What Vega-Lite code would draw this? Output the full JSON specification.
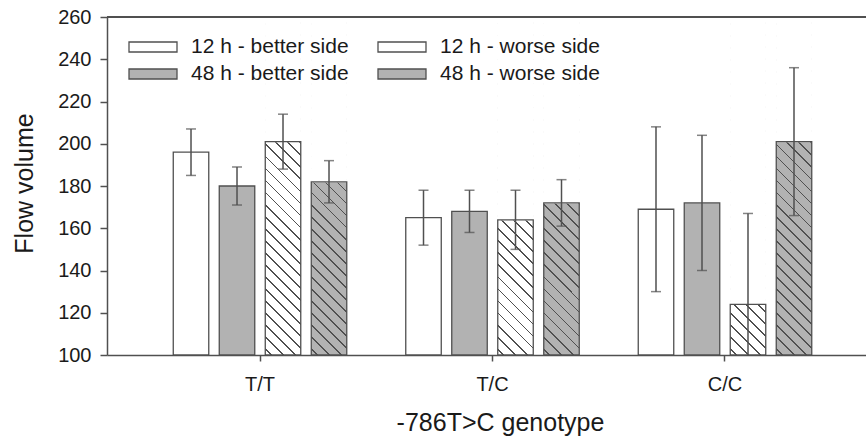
{
  "$schema": "https://vega.github.io/schema/vega-lite/v6.json",
  "width": 759,
  "height": 338,
  "autosize": "none",
  "padding": {"left": 107, "top": 17, "right": 0, "bottom": 81},
  "background": "white",
  "config": {
    "view": {"stroke": null},
    "font": "Liberation Sans",
    "axis": {
      "grid": false,
      "domainColor": "#505050",
      "domainWidth": 1.5,
      "tickColor": "#505050",
      "tickWidth": 1.5,
      "labelColor": "#1a1a1a",
      "titleColor": "#1a1a1a",
      "labelFont": "Liberation Sans",
      "titleFont": "Liberation Sans",
      "labelFontSize": 20,
      "titleFontSize": 25,
      "titleFontWeight": "normal"
    }
  },
  "data": {
    "values": [
      {"genotype": "T/T", "group": "12 h - better side", "value": 196, "lo": 185, "hi": 207},
      {"genotype": "T/T", "group": "48 h - better side", "value": 180, "lo": 171, "hi": 189},
      {"genotype": "T/T", "group": "12 h - worse side", "value": 201, "lo": 188, "hi": 214},
      {"genotype": "T/T", "group": "48 h - worse side", "value": 182, "lo": 172, "hi": 192},
      {"genotype": "T/C", "group": "12 h - better side", "value": 165, "lo": 152, "hi": 178},
      {"genotype": "T/C", "group": "48 h - better side", "value": 168, "lo": 158, "hi": 178},
      {"genotype": "T/C", "group": "12 h - worse side", "value": 164, "lo": 150, "hi": 178},
      {"genotype": "T/C", "group": "48 h - worse side", "value": 172, "lo": 161, "hi": 183},
      {"genotype": "C/C", "group": "12 h - better side", "value": 169, "lo": 130, "hi": 208},
      {"genotype": "C/C", "group": "48 h - better side", "value": 172, "lo": 140, "hi": 204},
      {"genotype": "C/C", "group": "12 h - worse side", "value": 124, "lo": 80, "hi": 167},
      {"genotype": "C/C", "group": "48 h - worse side", "value": 201, "lo": 166, "hi": 236}
    ]
  },
  "layer": [
    {
      "mark": {"type": "bar", "stroke": null},
      "encoding": {
        "x": {
          "field": "genotype", "type": "nominal", "sort": ["T/T", "T/C", "C/C"], "title": "-786T>C genotype",
          "scale": {"paddingInner": 0, "paddingOuter": 0.1323, "align": 0.5976},
          "axis": {"labelAngle": 0, "tickSize": 6, "labelPadding": 13, "titleX": 393, "titleY": 75, "titleBaseline": "alphabetic", "titleAlign": "center", "titleAnchor": null}
        },
        "xOffset": {
          "field": "group", "type": "nominal",
          "sort": ["12 h - better side", "48 h - better side", "12 h - worse side", "48 h - worse side"],
          "scale": {"paddingInner": 0.2283, "paddingOuter": 0.6413}
        },
        "y": {
          "field": "value", "type": "quantitative", "title": "Flow volume",
          "scale": {"domain": [100, 260], "nice": false, "zero": false},
          "axis": {"values": [100, 120, 140, 160, 180, 200, 220, 240, 260], "tickSize": 7, "labelPadding": 9, "titleX": -75, "titleY": 166, "titleBaseline": "alphabetic", "titleAlign": "center", "titleAnchor": null}
        },
        "y2": {"datum": 100},
        "fill": {
          "field": "group", "type": "nominal",
          "scale": {"domain": ["12 h - better side", "48 h - better side", "12 h - worse side", "48 h - worse side"], "range": ["#ffffff", "#b2b2b2", "#ffffff", "#b2b2b2"]},
          "legend": {
            "title": null, "orient": "none", "legendX": 21, "legendY": 20, "columns": 2,
            "symbolType": "M-1,-0.2083H1V0.2083H-1Z", "symbolSize": 2304,
            "symbolStrokeColor": "#505050", "symbolStrokeWidth": 1.3, "symbolOpacity": 1,
            "labelFontSize": 21, "labelColor": "#1a1a1a", "labelFont": "Liberation Sans",
            "labelOffset": 13, "columnPadding": 28, "rowPadding": 6, "clipHeight": 20,
            "encode": {
              "symbols": {
                "update": {
                  "fill": [
                    {"test": "datum.value === '12 h - worse side'", "value": {"gradient": "linear", "x1": 0, "y1": 1, "x2": 1.1581, "y2": 0.7587, "stops": [
                      {"offset": 0, "color": "#ffffff"},
                      {"offset": 0.0845, "color": "#ffffff"}, {"offset": 0.0845, "color": "#505050"}, {"offset": 0.1155, "color": "#505050"}, {"offset": 0.1155, "color": "#ffffff"},
                      {"offset": 0.2845, "color": "#ffffff"}, {"offset": 0.2845, "color": "#505050"}, {"offset": 0.3155, "color": "#505050"}, {"offset": 0.3155, "color": "#ffffff"},
                      {"offset": 0.4845, "color": "#ffffff"}, {"offset": 0.4845, "color": "#505050"}, {"offset": 0.5155, "color": "#505050"}, {"offset": 0.5155, "color": "#ffffff"},
                      {"offset": 0.6845, "color": "#ffffff"}, {"offset": 0.6845, "color": "#505050"}, {"offset": 0.7155, "color": "#505050"}, {"offset": 0.7155, "color": "#ffffff"},
                      {"offset": 0.8845, "color": "#ffffff"}, {"offset": 0.8845, "color": "#505050"}, {"offset": 0.9155, "color": "#505050"}, {"offset": 0.9155, "color": "#ffffff"},
                      {"offset": 1, "color": "#ffffff"}
                    ]}},
                    {"test": "datum.value === '48 h - worse side'", "value": {"gradient": "linear", "x1": 0, "y1": 1, "x2": 1.1581, "y2": 0.7587, "stops": [
                      {"offset": 0, "color": "#b2b2b2"},
                      {"offset": 0.0845, "color": "#b2b2b2"}, {"offset": 0.0845, "color": "#505050"}, {"offset": 0.1155, "color": "#505050"}, {"offset": 0.1155, "color": "#b2b2b2"},
                      {"offset": 0.2845, "color": "#b2b2b2"}, {"offset": 0.2845, "color": "#505050"}, {"offset": 0.3155, "color": "#505050"}, {"offset": 0.3155, "color": "#b2b2b2"},
                      {"offset": 0.4845, "color": "#b2b2b2"}, {"offset": 0.4845, "color": "#505050"}, {"offset": 0.5155, "color": "#505050"}, {"offset": 0.5155, "color": "#b2b2b2"},
                      {"offset": 0.6845, "color": "#b2b2b2"}, {"offset": 0.6845, "color": "#505050"}, {"offset": 0.7155, "color": "#505050"}, {"offset": 0.7155, "color": "#b2b2b2"},
                      {"offset": 0.8845, "color": "#b2b2b2"}, {"offset": 0.8845, "color": "#505050"}, {"offset": 0.9155, "color": "#505050"}, {"offset": 0.9155, "color": "#b2b2b2"},
                      {"offset": 1, "color": "#b2b2b2"}
                    ]}},
                    {"test": "datum.value === '48 h - better side'", "value": "#b2b2b2"},
                    {"value": "#ffffff"}
                  ],
                  "stroke": {"value": "#505050"},
                  "strokeWidth": {"value": 1.3}
                }
              }
            }
          }
        }
      }
    },
    {
      "transform": [{"filter": "indexof(datum.group, 'worse') >= 0"}],
      "mark": {
        "type": "bar", "stroke": null,
        "fill": {"gradient": "linear", "x1": 0, "y1": 1, "x2": 0.1148, "y2": -0.093, "stops": [
          {"offset": 0, "color": "rgba(80,80,80,0)"},
          {"offset": 0.0137, "color": "rgba(80,80,80,0)"}, {"offset": 0.0137, "color": "#505050"}, {"offset": 0.0185, "color": "#505050"}, {"offset": 0.0185, "color": "rgba(80,80,80,0)"},
          {"offset": 0.0460, "color": "rgba(80,80,80,0)"}, {"offset": 0.0460, "color": "#505050"}, {"offset": 0.0508, "color": "#505050"}, {"offset": 0.0508, "color": "rgba(80,80,80,0)"},
          {"offset": 0.0782, "color": "rgba(80,80,80,0)"}, {"offset": 0.0782, "color": "#505050"}, {"offset": 0.0830, "color": "#505050"}, {"offset": 0.0830, "color": "rgba(80,80,80,0)"},
          {"offset": 0.1105, "color": "rgba(80,80,80,0)"}, {"offset": 0.1105, "color": "#505050"}, {"offset": 0.1153, "color": "#505050"}, {"offset": 0.1153, "color": "rgba(80,80,80,0)"},
          {"offset": 0.1428, "color": "rgba(80,80,80,0)"}, {"offset": 0.1428, "color": "#505050"}, {"offset": 0.1476, "color": "#505050"}, {"offset": 0.1476, "color": "rgba(80,80,80,0)"},
          {"offset": 0.1750, "color": "rgba(80,80,80,0)"}, {"offset": 0.1750, "color": "#505050"}, {"offset": 0.1798, "color": "#505050"}, {"offset": 0.1798, "color": "rgba(80,80,80,0)"},
          {"offset": 0.2073, "color": "rgba(80,80,80,0)"}, {"offset": 0.2073, "color": "#505050"}, {"offset": 0.2121, "color": "#505050"}, {"offset": 0.2121, "color": "rgba(80,80,80,0)"},
          {"offset": 0.2395, "color": "rgba(80,80,80,0)"}, {"offset": 0.2395, "color": "#505050"}, {"offset": 0.2443, "color": "#505050"}, {"offset": 0.2443, "color": "rgba(80,80,80,0)"},
          {"offset": 0.2718, "color": "rgba(80,80,80,0)"}, {"offset": 0.2718, "color": "#505050"}, {"offset": 0.2766, "color": "#505050"}, {"offset": 0.2766, "color": "rgba(80,80,80,0)"},
          {"offset": 0.3041, "color": "rgba(80,80,80,0)"}, {"offset": 0.3041, "color": "#505050"}, {"offset": 0.3089, "color": "#505050"}, {"offset": 0.3089, "color": "rgba(80,80,80,0)"},
          {"offset": 0.3363, "color": "rgba(80,80,80,0)"}, {"offset": 0.3363, "color": "#505050"}, {"offset": 0.3411, "color": "#505050"}, {"offset": 0.3411, "color": "rgba(80,80,80,0)"},
          {"offset": 0.3686, "color": "rgba(80,80,80,0)"}, {"offset": 0.3686, "color": "#505050"}, {"offset": 0.3734, "color": "#505050"}, {"offset": 0.3734, "color": "rgba(80,80,80,0)"},
          {"offset": 0.4008, "color": "rgba(80,80,80,0)"}, {"offset": 0.4008, "color": "#505050"}, {"offset": 0.4056, "color": "#505050"}, {"offset": 0.4056, "color": "rgba(80,80,80,0)"},
          {"offset": 0.4331, "color": "rgba(80,80,80,0)"}, {"offset": 0.4331, "color": "#505050"}, {"offset": 0.4379, "color": "#505050"}, {"offset": 0.4379, "color": "rgba(80,80,80,0)"},
          {"offset": 0.4653, "color": "rgba(80,80,80,0)"}, {"offset": 0.4653, "color": "#505050"}, {"offset": 0.4701, "color": "#505050"}, {"offset": 0.4701, "color": "rgba(80,80,80,0)"},
          {"offset": 0.4976, "color": "rgba(80,80,80,0)"}, {"offset": 0.4976, "color": "#505050"}, {"offset": 0.5024, "color": "#505050"}, {"offset": 0.5024, "color": "rgba(80,80,80,0)"},
          {"offset": 0.5299, "color": "rgba(80,80,80,0)"}, {"offset": 0.5299, "color": "#505050"}, {"offset": 0.5347, "color": "#505050"}, {"offset": 0.5347, "color": "rgba(80,80,80,0)"},
          {"offset": 0.5621, "color": "rgba(80,80,80,0)"}, {"offset": 0.5621, "color": "#505050"}, {"offset": 0.5669, "color": "#505050"}, {"offset": 0.5669, "color": "rgba(80,80,80,0)"},
          {"offset": 0.5944, "color": "rgba(80,80,80,0)"}, {"offset": 0.5944, "color": "#505050"}, {"offset": 0.5992, "color": "#505050"}, {"offset": 0.5992, "color": "rgba(80,80,80,0)"},
          {"offset": 0.6266, "color": "rgba(80,80,80,0)"}, {"offset": 0.6266, "color": "#505050"}, {"offset": 0.6314, "color": "#505050"}, {"offset": 0.6314, "color": "rgba(80,80,80,0)"},
          {"offset": 0.6589, "color": "rgba(80,80,80,0)"}, {"offset": 0.6589, "color": "#505050"}, {"offset": 0.6637, "color": "#505050"}, {"offset": 0.6637, "color": "rgba(80,80,80,0)"},
          {"offset": 0.6911, "color": "rgba(80,80,80,0)"}, {"offset": 0.6911, "color": "#505050"}, {"offset": 0.6959, "color": "#505050"}, {"offset": 0.6959, "color": "rgba(80,80,80,0)"},
          {"offset": 0.7234, "color": "rgba(80,80,80,0)"}, {"offset": 0.7234, "color": "#505050"}, {"offset": 0.7282, "color": "#505050"}, {"offset": 0.7282, "color": "rgba(80,80,80,0)"},
          {"offset": 0.7557, "color": "rgba(80,80,80,0)"}, {"offset": 0.7557, "color": "#505050"}, {"offset": 0.7605, "color": "#505050"}, {"offset": 0.7605, "color": "rgba(80,80,80,0)"},
          {"offset": 0.7879, "color": "rgba(80,80,80,0)"}, {"offset": 0.7879, "color": "#505050"}, {"offset": 0.7927, "color": "#505050"}, {"offset": 0.7927, "color": "rgba(80,80,80,0)"},
          {"offset": 0.8202, "color": "rgba(80,80,80,0)"}, {"offset": 0.8202, "color": "#505050"}, {"offset": 0.8250, "color": "#505050"}, {"offset": 0.8250, "color": "rgba(80,80,80,0)"},
          {"offset": 0.8524, "color": "rgba(80,80,80,0)"}, {"offset": 0.8524, "color": "#505050"}, {"offset": 0.8572, "color": "#505050"}, {"offset": 0.8572, "color": "rgba(80,80,80,0)"},
          {"offset": 0.8847, "color": "rgba(80,80,80,0)"}, {"offset": 0.8847, "color": "#505050"}, {"offset": 0.8895, "color": "#505050"}, {"offset": 0.8895, "color": "rgba(80,80,80,0)"},
          {"offset": 0.9170, "color": "rgba(80,80,80,0)"}, {"offset": 0.9170, "color": "#505050"}, {"offset": 0.9218, "color": "#505050"}, {"offset": 0.9218, "color": "rgba(80,80,80,0)"},
          {"offset": 0.9492, "color": "rgba(80,80,80,0)"}, {"offset": 0.9492, "color": "#505050"}, {"offset": 0.9540, "color": "#505050"}, {"offset": 0.9540, "color": "rgba(80,80,80,0)"},
          {"offset": 0.9815, "color": "rgba(80,80,80,0)"}, {"offset": 0.9815, "color": "#505050"}, {"offset": 0.9863, "color": "#505050"}, {"offset": 0.9863, "color": "rgba(80,80,80,0)"},
          {"offset": 1, "color": "rgba(80,80,80,0)"}
        ]}
      },
      "encoding": {
        "x": {"field": "genotype", "type": "nominal", "sort": ["T/T", "T/C", "C/C"], "title": "-786T>C genotype"},
        "xOffset": {"field": "group", "type": "nominal", "sort": ["12 h - better side", "48 h - better side", "12 h - worse side", "48 h - worse side"]},
        "y": {"datum": 260, "type": "quantitative", "title": "Flow volume"},
        "y2": {"datum": 100}
      }
    },
    {
      "transform": [{"filter": "indexof(datum.group, 'worse') >= 0"}],
      "mark": {"type": "bar", "fill": "#ffffff", "stroke": "#ffffff", "strokeWidth": 1.2},
      "encoding": {
        "x": {"field": "genotype", "type": "nominal", "sort": ["T/T", "T/C", "C/C"], "title": "-786T>C genotype"},
        "xOffset": {"field": "group", "type": "nominal", "sort": ["12 h - better side", "48 h - better side", "12 h - worse side", "48 h - worse side"]},
        "y": {"field": "value", "type": "quantitative", "title": "Flow volume"},
        "y2": {"datum": 260}
      }
    },
    {
      "mark": {"type": "bar", "filled": false, "color": "#505050", "strokeWidth": 1.3},
      "encoding": {
        "x": {"field": "genotype", "type": "nominal", "sort": ["T/T", "T/C", "C/C"], "title": "-786T>C genotype"},
        "xOffset": {"field": "group", "type": "nominal", "sort": ["12 h - better side", "48 h - better side", "12 h - worse side", "48 h - worse side"]},
        "y": {"field": "value", "type": "quantitative", "title": "Flow volume"},
        "y2": {"datum": 100}
      }
    },
    {
      "mark": {"type": "rule", "color": "#505050", "strokeWidth": 1.5, "clip": true},
      "encoding": {
        "x": {"field": "genotype", "type": "nominal", "sort": ["T/T", "T/C", "C/C"], "title": "-786T>C genotype"},
        "xOffset": {"field": "group", "type": "nominal", "sort": ["12 h - better side", "48 h - better side", "12 h - worse side", "48 h - worse side"]},
        "y": {"field": "lo", "type": "quantitative", "title": "Flow volume"},
        "y2": {"field": "hi"}
      }
    },
    {
      "mark": {"type": "tick", "color": "#505050", "thickness": 1.5, "size": 10, "clip": true},
      "encoding": {
        "x": {"field": "genotype", "type": "nominal", "sort": ["T/T", "T/C", "C/C"], "title": "-786T>C genotype"},
        "xOffset": {"field": "group", "type": "nominal", "sort": ["12 h - better side", "48 h - better side", "12 h - worse side", "48 h - worse side"]},
        "y": {"field": "hi", "type": "quantitative", "title": "Flow volume"}
      }
    },
    {
      "mark": {"type": "tick", "color": "#505050", "thickness": 1.5, "size": 10, "clip": true},
      "encoding": {
        "x": {"field": "genotype", "type": "nominal", "sort": ["T/T", "T/C", "C/C"], "title": "-786T>C genotype"},
        "xOffset": {"field": "group", "type": "nominal", "sort": ["12 h - better side", "48 h - better side", "12 h - worse side", "48 h - worse side"]},
        "y": {"field": "lo", "type": "quantitative", "title": "Flow volume"}
      }
    },
    {
      "mark": {"type": "rule", "color": "#505050", "strokeWidth": 1.5},
      "encoding": {
        "y": {"datum": 260, "type": "quantitative", "title": "Flow volume"}
      }
    }
  ]
}
